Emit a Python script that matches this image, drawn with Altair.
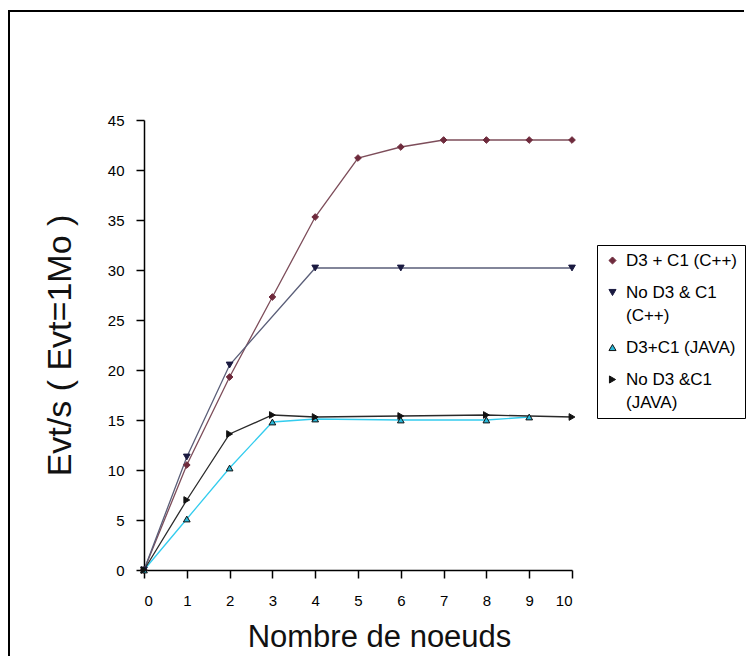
import altair as alt
import pandas as pd

series_names = ["D3 + C1 (C++)", "No D3 & C1|(C++)", "D3+C1 (JAVA)", "No D3 &C1|(JAVA)"]

s1_x = [0, 1, 2, 3, 4, 5, 6, 7, 8, 9, 10]
s1_y = [0, 10.5, 19.3, 27.3, 35.3, 41.2, 42.3, 43.0, 43.0, 43.0, 43.0]

s2_x = [0, 1, 2, 4, 6, 10]
s2_y = [0, 11.3, 20.5, 30.2, 30.2, 30.2]

s3_x = [0, 1, 2, 3, 4, 6, 8, 9]
s3_y = [0, 5.1, 10.2, 14.8, 15.1, 15.0, 15.0, 15.3]

s4_x = [0, 1, 2, 3, 4, 6, 8, 10]
s4_y = [0, 7.0, 13.6, 15.5, 15.3, 15.4, 15.5, 15.3]

line_colors = ["#7d4d5a", "#5a5e78", "#33ccee", "#2a2a2a"]
marker_fill = ["#6e2a3c", "#1a1a40", "#2ab8d8", "#111111"]
marker_stroke = ["#6e2a3c", "#1a1a40", "#111111", "#111111"]
shapes = ["diamond", "triangle-down", "triangle-up", "triangle-right"]

rows = []
for name, xs, ys in zip(series_names, [s1_x, s2_x, s3_x, s4_x], [s1_y, s2_y, s3_y, s4_y]):
    for i, (x, y) in enumerate(zip(xs, ys)):
        rows.append({"series": name, "x": x, "y": y, "order": i})
df = pd.DataFrame(rows)

FONT = "Liberation Sans"

x_enc = alt.X("x:Q", scale=alt.Scale(domain=[0, 10], nice=False, zero=False),
              axis=alt.Axis(values=list(range(11)), title="Nombre de noeuds", grid=False,
                            tickSize=8, tickWidth=1.5, domainWidth=1.5, domainColor="black",
                            tickColor="black", labelFontSize=15, labelPadding=15,
                            labelColor="black", labelFont=FONT,
                            titleFont=FONT, titleFontSize=31, titleFontWeight="normal",
                            titleColor="#111111", titleX=235, titleY=76,
                            titleBaseline="alphabetic", titleAlign="center"))
y_enc = alt.Y("y:Q", scale=alt.Scale(domain=[0, 45], nice=False),
              axis=alt.Axis(values=list(range(0, 46, 5)), title="Evt/s ( Evt=1Mo )", grid=False,
                            tickSize=8, tickWidth=1.5, domainWidth=1.5, domainColor="black",
                            tickColor="black", labelFontSize=15, labelPadding=12,
                            labelColor="black", labelFont=FONT,
                            titleFont=FONT, titleFontSize=34, titleFontWeight="normal",
                            titleColor="#111111", titleX=-74, titleY=225, titleAngle=-90,
                            titleBaseline="alphabetic", titleAlign="center"))

base = alt.Chart(df)

# reversed domain so the (hidden) line-colour legend is not merged with the marker legend
lines = base.mark_line(strokeWidth=1.3).encode(
    x=x_enc, y=y_enc,
    order="order:Q",
    color=alt.Color("series:N", scale=alt.Scale(domain=series_names[::-1], range=line_colors[::-1]),
                    legend=None),
    detail="series:N",
)

legend = alt.Legend(title=None, orient="none", legendX=453, legendY=125,
                    labelExpr="split(datum.label, '|')", labelFont=FONT, labelFontSize=17,
                    labelColor="black", labelLimit=300, strokeColor="black", fillColor="white",
                    padding=7, rowPadding=14, symbolSize=50,
                    labelOffset=5, symbolStrokeWidth=1)

points = base.mark_point(size=45, opacity=1, fillOpacity=1, strokeWidth=1).encode(
    x="x:Q", y="y:Q",
    shape=alt.Shape("series:N", scale=alt.Scale(domain=series_names, range=shapes), legend=legend),
    fill=alt.Fill("series:N", scale=alt.Scale(domain=series_names, range=marker_fill), legend=legend),
    stroke=alt.Stroke("series:N", scale=alt.Scale(domain=series_names, range=marker_stroke), legend=legend),
)

frame_df = pd.DataFrame({"k": [0]})
frame_left = alt.Chart(frame_df).mark_rule(color="black", strokeWidth=2).encode(
    x=alt.value(-135), y=alt.value(-109), y2=alt.value(536))
frame_top = alt.Chart(frame_df).mark_rule(color="black", strokeWidth=2).encode(
    x=alt.value(-136), x2=alt.value(600), y=alt.value(-109))

chart = alt.layer(frame_left, frame_top, lines, points).properties(
    width=428, height=450,
    padding={"left": 136, "top": 112, "right": 174, "bottom": 86},
    autosize=alt.AutoSizeParams(type="none"),
    background="white",
).configure(style={"guide-label": {"lineHeight": 23}}).configure_view(stroke=None)

chart.save("out.html", embed_options={"renderer": "svg", "actions": False})
